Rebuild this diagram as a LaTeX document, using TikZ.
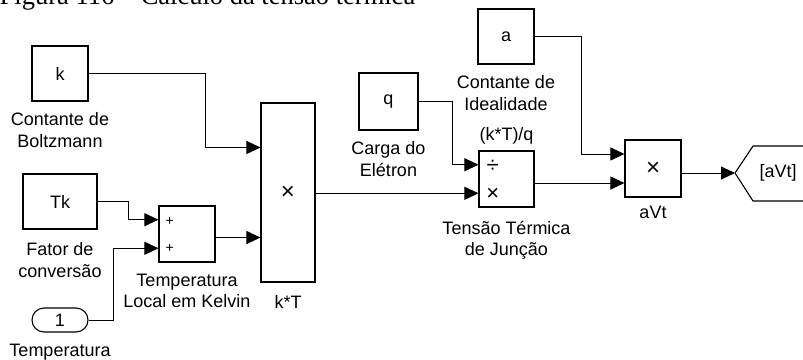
\documentclass[tikz,border=0pt]{standalone}
\usepackage{fontspec}
\setmainfont{Liberation Sans}
\newfontfamily\titlefont{Liberation Serif}
\usetikzlibrary{arrows.meta,positioning,calc}

\begin{document}
\begin{tikzpicture}[
    x=1pt, y=-1pt,
    block/.style={draw, line width=1.1pt, minimum width=56pt, minimum height=55pt, inner sep=0pt, font=\fontsize{18}{21}\selectfont},
    lbl/.style={inner sep=0pt, align=center, font=\fontsize{18}{21.5}\selectfont},
    port/.style={inner sep=0pt, font=\fontsize{14}{14}\selectfont},
    wire/.style={line width=0.9pt, -{Triangle[length=14pt,width=13pt]}},
    node distance=11pt
]
\useasboundingbox (0,0) rectangle (803,359);
\clip (0,0) rectangle (803,359);

% Caption (cut off at the top)
\node[anchor=base west, inner sep=0pt, font=\titlefont\fontsize{26.5}{30}\selectfont] (title) at (-0.5,4) {Figura 116 – Cálculo da tensão térmica};

% Blocks
\node[block] (k) at (60,73.5) {k};
\node[block, minimum width=74pt] (Tk) at (60,201.5) {Tk};
\node[block, rounded corners=12pt, minimum height=24pt] (temp) at (60,320) {1};
\node[block, minimum height=56pt] (sum) at (187,234) {};
\node[block, minimum width=54pt, minimum height=179pt] (kT) at (288,192.5) {\fontsize{24}{24}\selectfont ×};
\node[block, minimum width=59pt, minimum height=57pt] (q) at (388.5,101.5) {q};
\node[block, minimum width=55pt, minimum height=56pt] (div) at (506.5,179) {};
\node[block] (a) at (506,36.5) {a};
\node[block, minimum height=57pt] (aVt) at (653,168.5) {\fontsize{24}{24}\selectfont ×};

% Goto tag
\coordinate (goto) at (735,173);
\draw[line width=1.1pt] (goto) -- (753,146) -- (815,146) (815,201) -- (753,201) -- (goto);
\node[font=\fontsize{18}{21}\selectfont] (gotoTxt) at (778,173) {[aVt]};

% Port signs
\node[port] (sumA) at (169.7,221) {+};
\node[port] (sumB) at (169.7,248) {+};
\node[port, font=\fontsize{22}{22}\selectfont] (divA) at (492.7,166) {÷};
\node[port, font=\fontsize{22}{22}\selectfont] (divB) at (492.7,194) {×};

% Input ports
\coordinate (kT1) at ($(kT.north west)!.25!(kT.south west)$);
\coordinate (kT2) at ($(kT.north west)!.75!(kT.south west)$);
\coordinate (sum1) at ($(sum.north west)!.25!(sum.south west)$);
\coordinate (sum2) at ($(sum.north west)!.75!(sum.south west)$);
\coordinate (div1) at ($(div.north west)!.25!(div.south west)$);
\coordinate (div2) at ($(div.north west)!.75!(div.south west)$);
\coordinate (aVt1) at ($(aVt.north west)!.25!(aVt.south west)$);
\coordinate (aVt2) at ($(aVt.north west)!.75!(aVt.south west)$);

% Connections
\draw[wire] (k.east) -- ++(117,0) |- (kT1);
\draw[wire] (Tk.east) -- ++(31,0) |- (sum1);
\draw[wire] (temp.east) -- ++(25,0) |- (sum2);
\draw[wire] (sum.east |- kT2) -- (kT2);
\draw[wire] (kT.east |- div2) -- (div2);
\draw[wire] (q.east) -- ++(34,0) |- (div1);
\draw[wire] (a.east) -- ++(47,0) |- (aVt1);
\draw[wire] (div.east |- aVt2) -- (aVt2);
\draw[wire] (aVt.east |- goto) -- (goto);

% Labels
\node[lbl, below=of k] (kLbl) {Contante de\\Boltzmann};
\node[lbl, below=13pt of Tk] (TkLbl) {Fator de\\conversão};
\node[lbl, below=of sum] (sumLbl) {Temperatura\\Local em Kelvin};
\node[lbl, below=of temp] (tempLbl) {Temperatura};
\node[lbl, below=13pt of kT] (kTLbl) {k*T};
\node[lbl, below=of q] (qLbl) {Carga do\\Elétron};
\node[lbl, above=6pt of div] (divTop) {(k*T)/q};
\node[lbl, below=13pt of div] (divLbl) {Tensão Térmica\\de Junção};
\node[lbl, below=of a] (aLbl) {Contante de\\Idealidade};
\node[lbl, below=8pt of aVt] (aVtLbl) {aVt};
\end{tikzpicture}
\end{document}
